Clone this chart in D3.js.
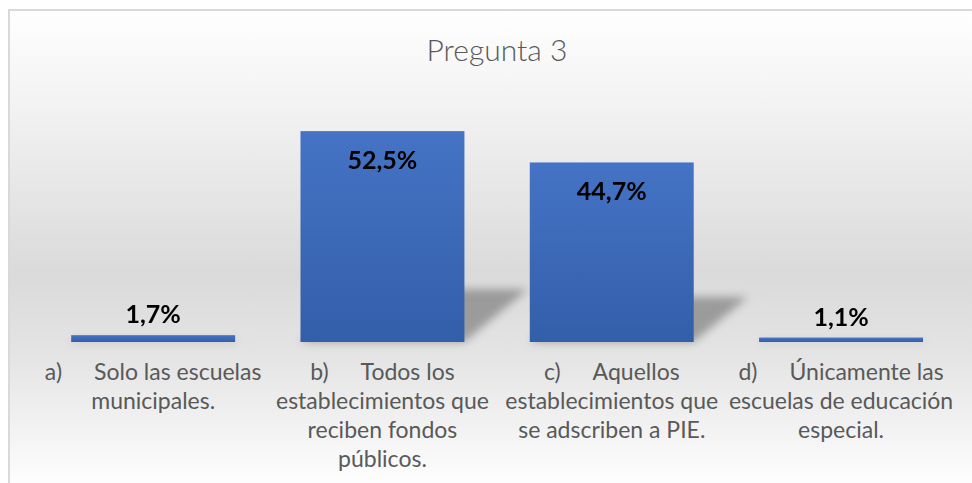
<html>
<head>
<meta charset="utf-8">
<script src="https://d3js.org/d3.v7.min.js"></script>
<style>
  body { margin: 0; background: #fff; }
  text { font-family: Lato, "Noto Sans", sans-serif; }
</style>
</head>
<body>
<svg id="chart" width="972" height="483"></svg>
<script>
// chart data
const title = "Pregunta 3";
const letters = ["a)", "b)", "c)", "d)"];
const values = [1.7, 52.5, 44.7, 1.1];
const firstLines = ["Solo las escuelas", "Todos los", "Aquellos", "Únicamente las"];
const otherLines = [
  ["municipales."],
  ["establecimientos que", "reciben fondos", "públicos."],
  ["establecimientos que", "se adscriben a PIE."],
  ["escuelas de educación", "especial."]
];

const svg = d3.select("#chart");
const defs = svg.append("defs");

// background gradient of chart area
const bg = defs.append("linearGradient")
  .attr("id", "bgGrad")
  .attr("gradientUnits", "userSpaceOnUse")
  .attr("x1", 0).attr("y1", 9).attr("x2", 0).attr("y2", 490);
[[0, "#ffffff"], [0.25, "#efefef"], [0.55, "#dadada"], [0.72, "#e4e4e4"], [0.88, "#f3f3f3"], [1, "#ffffff"]]
  .forEach(s => bg.append("stop").attr("offset", s[0]).attr("stop-color", s[1]));

const barGrad = defs.append("linearGradient")
  .attr("id", "barGrad")
  .attr("x1", 0).attr("y1", 0).attr("x2", 0).attr("y2", 1);
barGrad.append("stop").attr("offset", 0).attr("stop-color", "#4573c5");
barGrad.append("stop").attr("offset", 1).attr("stop-color", "#335ea9");

defs.append("filter")
  .attr("id", "blur")
  .attr("x", "-20%").attr("y", "-20%").attr("width", "140%").attr("height", "140%")
  .append("feGaussianBlur").attr("stdDeviation", 4);

// chart area
svg.append("rect")
  .attr("x", 9).attr("y", 10)
  .attr("width", 1000).attr("height", 500)
  .attr("fill", "url(#bgGrad)")
  .attr("stroke", "#d9d9d9")
  .attr("stroke-width", 2);

const x = d3.scaleBand()
  .domain(letters)
  .range([38.5, 955.7])
  .paddingInner(0.285)
  .paddingOuter(0.1425);

const y = d3.scaleLinear().domain([0, 60]).range([342, 101]);
const B = y(0);

svg.append("text")
  .attr("x", 497).attr("y", 61)
  .attr("text-anchor", "middle")
  .attr("fill", "#595959")
  .style("font-size", "30px")
  .style("font-weight", 300)
  .text(title);

const data = letters.map((l, i) => ({ letter: l, value: values[i], first: firstLines[i], rest: otherLines[i] }));

// perspective shadows
svg.append("g")
  .attr("filter", "url(#blur)")
  .selectAll("rect")
  .data(data)
  .join("rect")
  .attr("x", d => x(d.letter))
  .attr("y", d => y(d.value))
  .attr("width", x.bandwidth())
  .attr("height", d => B - y(d.value))
  .attr("transform", `matrix(1,0,-0.3,0.25,${0.3 * B},${0.75 * B})`)
  .attr("fill", "#000")
  .attr("fill-opacity", 0.3);

svg.append("g")
  .selectAll("rect")
  .data(data)
  .join("rect")
  .attr("x", d => x(d.letter))
  .attr("y", d => y(d.value))
  .attr("width", x.bandwidth())
  .attr("height", d => B - y(d.value))
  .attr("fill", "url(#barGrad)");

const fmt = v => d3.format(".1f")(v).replace(".", ",") + "%";

svg.append("g")
  .selectAll("text")
  .data(data)
  .join("text")
  .attr("x", d => x(d.letter) + x.bandwidth() / 2)
  .attr("y", d => d.value > 10 ? y(d.value) + 38 : y(d.value) - 12)
  .attr("text-anchor", "middle")
  .attr("fill", "#000")
  .style("font-size", "25px")
  .style("font-weight", "bold")
  .text(d => fmt(d.value));

// category labels
const cat = svg.append("g")
  .selectAll("g")
  .data(data)
  .join("g")
  .attr("transform", d => `translate(${x(d.letter) + x.bandwidth() / 2},0)`)
  .attr("fill", "#595959")
  .style("font-size", "23px");

const firstText = cat.append("text")
  .attr("y", 380)
  .attr("text-anchor", "middle");
firstText.append("tspan").text(d => d.letter);
firstText.append("tspan").attr("dx", 32).text(d => d.first);

cat.each(function(d) {
  d3.select(this).selectAll("text.rest")
    .data(d.rest)
    .join("text")
    .attr("class", "rest")
    .attr("y", (s, j) => 409 + j * 29)
    .attr("text-anchor", "middle")
    .text(s => s);
});
</script>
</body>
</html>
